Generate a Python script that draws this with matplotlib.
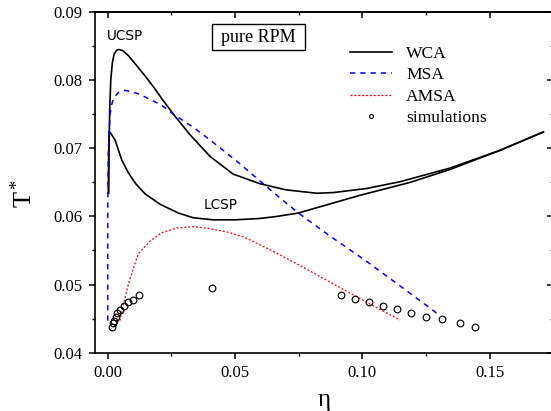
import matplotlib
matplotlib.use("Agg")
import matplotlib.pyplot as plt
from matplotlib.lines import Line2D
from matplotlib.patches import Rectangle
from matplotlib.ticker import MultipleLocator, FormatStrFormatter

plt.rcParams['font.family'] = ['Liberation Serif', 'DejaVu Serif']
plt.rcParams['mathtext.fontset'] = 'custom'
plt.rcParams['mathtext.rm'] = 'Liberation Serif'
plt.rcParams['mathtext.it'] = 'Liberation Serif:italic'
plt.rcParams['lines.scale_dashes'] = False

# ---- data ----
wca_upper_eta = [0.0003, 0.0005, 0.0008, 0.0012, 0.0018, 0.0025, 0.0035, 0.0045, 0.0060,
                 0.0081, 0.0110, 0.0147, 0.0180, 0.0212, 0.0258, 0.0323, 0.0402, 0.0493,
                 0.0598, 0.0700, 0.0821, 0.0886, 0.1017, 0.1149, 0.1188, 0.1345, 0.1541, 0.1711]
wca_upper_T = [0.0634, 0.0700, 0.0760, 0.0800, 0.0825, 0.0838, 0.0844, 0.0845, 0.0843,
               0.0836, 0.0823, 0.0806, 0.0790, 0.0773, 0.0750, 0.0720, 0.0688, 0.0662,
               0.0648, 0.0639, 0.0634, 0.0635, 0.0641, 0.0651, 0.0655, 0.0671, 0.0697, 0.0724]

wca_lower_eta = [0.0003, 0.0004, 0.0006, 0.0012, 0.0029, 0.0055, 0.0081, 0.0110, 0.0147,
                 0.0205, 0.0277, 0.0336, 0.0415, 0.0500, 0.0598, 0.0664, 0.0749, 0.0795,
                 0.0991, 0.1188, 0.1345, 0.1541, 0.1711]
wca_lower_T = [0.0634, 0.0700, 0.0724, 0.0722, 0.0712, 0.0683, 0.0664, 0.0648, 0.0633,
               0.0618, 0.0605, 0.0598, 0.0595, 0.0595, 0.0597, 0.0600, 0.0605, 0.0610,
               0.0631, 0.0650, 0.0669, 0.0697, 0.0724]

msa_eta = [0.0000, 0.0000, 0.0002, 0.0005, 0.0009, 0.0015, 0.0022, 0.0042, 0.0068, 0.0095,
           0.0120, 0.0165, 0.0212, 0.0258, 0.0343, 0.0430, 0.0520, 0.0598, 0.0677, 0.0749,
           0.0866, 0.1017, 0.1148, 0.1279, 0.1300]
msa_T = [0.0447, 0.0600, 0.0690, 0.0719, 0.0749, 0.0763, 0.0773, 0.0782, 0.0785, 0.0783,
         0.0780, 0.0772, 0.0763, 0.0750, 0.0729, 0.0704, 0.0677, 0.0652, 0.0627, 0.0605,
         0.0573, 0.0534, 0.0498, 0.0462, 0.0455]

amsa_eta = [0.0048, 0.0058, 0.0068, 0.0080, 0.0094, 0.0107, 0.0120, 0.0147, 0.0170, 0.0212,
            0.0271, 0.0336, 0.0402, 0.0470, 0.0533, 0.0600, 0.0664, 0.0755, 0.0886, 0.1017,
            0.1148]
amsa_T = [0.0447, 0.0465, 0.0481, 0.0499, 0.0516, 0.0531, 0.0545, 0.0556, 0.0565, 0.0576,
          0.0583, 0.0585, 0.0582, 0.0577, 0.0570, 0.0558, 0.0546, 0.0528, 0.0501, 0.0474,
          0.0448]

sim_eta = [0.0018, 0.0022, 0.0026, 0.0031, 0.0038, 0.0048, 0.0063, 0.0081, 0.0099, 0.0123,
           0.0410, 0.0916, 0.0970, 0.1026, 0.1080, 0.1135, 0.1193, 0.1249, 0.1313, 0.1382,
           0.1444]
sim_T = [0.0438, 0.0443, 0.0447, 0.0452, 0.0458, 0.0463, 0.0469, 0.0474, 0.0478, 0.0484,
         0.0495, 0.0484, 0.0479, 0.0474, 0.0469, 0.0464, 0.0458, 0.0453, 0.0449, 0.0443,
         0.0438]

legend_labels = ['WCA', 'MSA', 'AMSA', 'simulations']
x_ticks = [0.00, 0.05, 0.10, 0.15]
y_ticks = [0.04, 0.05, 0.06, 0.07, 0.08, 0.09]

# ---- figure ----
W, H = 551, 411
L, R, T, B = 95, 553.3, 12, 352.7
fig = plt.figure(figsize=(W / 100, H / 100), dpi=100)
ax = fig.add_axes([L / W, (H - B) / H, (R - L) / W, (B - T) / H])

def fx(px):  # pixel -> axes fraction (layout only)
    return (px - L) / (R - L)

def fy(py):
    return (B - py) / (B - T)

wca_style = dict(color='black', lw=1.2)
msa_style = dict(color='#0000ff', lw=1.1, dashes=(3.8, 3.6))
amsa_style = dict(color='#ff0000', lw=0.9, dashes=(1.4, 1.4))

ax.plot(wca_upper_eta, wca_upper_T, **wca_style)
ax.plot(wca_lower_eta, wca_lower_T, **wca_style)
ax.plot(msa_eta, msa_T, **msa_style)
ax.plot(amsa_eta, amsa_T, **amsa_style)
ax.plot(sim_eta, sim_T, linestyle='none', marker='o', ms=4.8, mfc='none',
        mec='black', mew=0.85)

ax.set_xlim(-0.005, 0.175)
ax.set_ylim(0.04, 0.09)
ax.set_xticks(x_ticks)
ax.set_yticks(y_ticks)
ax.xaxis.set_minor_locator(MultipleLocator(0.025))
ax.yaxis.set_minor_locator(MultipleLocator(0.005))
ax.xaxis.set_major_formatter(FormatStrFormatter('%.2f'))
ax.yaxis.set_major_formatter(FormatStrFormatter('%.2f'))

for s in ax.spines.values():
    s.set_linewidth(1.2)

ax.tick_params(which='major', direction='out', length=4.2, width=1.1, labelsize=12, pad=5)
ax.tick_params(which='minor', direction='out', length=2.3, width=1.0)
ax.tick_params(axis='y', which='major', pad=5)

# mirrored inward ticks on top / right
secx = ax.secondary_xaxis('top')
secx.set_xticks(x_ticks)
secx.xaxis.set_minor_locator(MultipleLocator(0.025))
secx.tick_params(which='major', direction='in', length=4.2, width=1.1, labeltop=False)
secx.tick_params(which='minor', direction='in', length=2.3, width=1.0)
secx.spines['top'].set_linewidth(1.2)
secy = ax.secondary_yaxis('right')
secy.set_yticks(y_ticks)
secy.yaxis.set_minor_locator(MultipleLocator(0.005))
secy.tick_params(which='major', direction='in', length=4.2, width=1.1, labelright=False)
secy.tick_params(which='minor', direction='in', length=2.3, width=1.0)
secy.spines['right'].set_linewidth(1.2)

ax.set_xlabel('η', fontsize=18, labelpad=5.5)
ax.set_ylabel('T$^*$', fontsize=19)
ax.yaxis.set_label_coords(fx(37), fy(193))

# annotations
ax.text(-0.0004, 0.0865, 'UCSP', family='DejaVu Sans', fontsize=9.8, ha='left', va='center')
ax.text(0.0443, 0.0617, 'LCSP', family='DejaVu Sans', fontsize=9.8, ha='center', va='center')
ax.add_patch(Rectangle((fx(211.7), fy(50)), fx(305) - fx(211.7), fy(24) - fy(50),
                       transform=ax.transAxes, fc='white', ec='black', lw=1.0, zorder=3))
ax.text(fx(258.3), fy(37.5), 'pure RPM', fontsize=13, ha='center', va='center',
        transform=ax.transAxes, zorder=4)

handles = [Line2D([], [], **wca_style),
           Line2D([], [], **msa_style),
           Line2D([], [], **amsa_style),
           Line2D([], [], linestyle='none', marker='o', ms=2.8, mfc='none', mec='black', mew=0.8)]
ax.legend(handles, legend_labels, loc='upper left', bbox_to_anchor=(350 / W, 1 - 45.5 / H),
          bbox_transform=fig.transFigure, frameon=False, fontsize=12.6, handlelength=2.4,
          handletextpad=0.8, labelspacing=0.3, borderpad=0, borderaxespad=0)

fig.savefig('out.png', dpi=100)
